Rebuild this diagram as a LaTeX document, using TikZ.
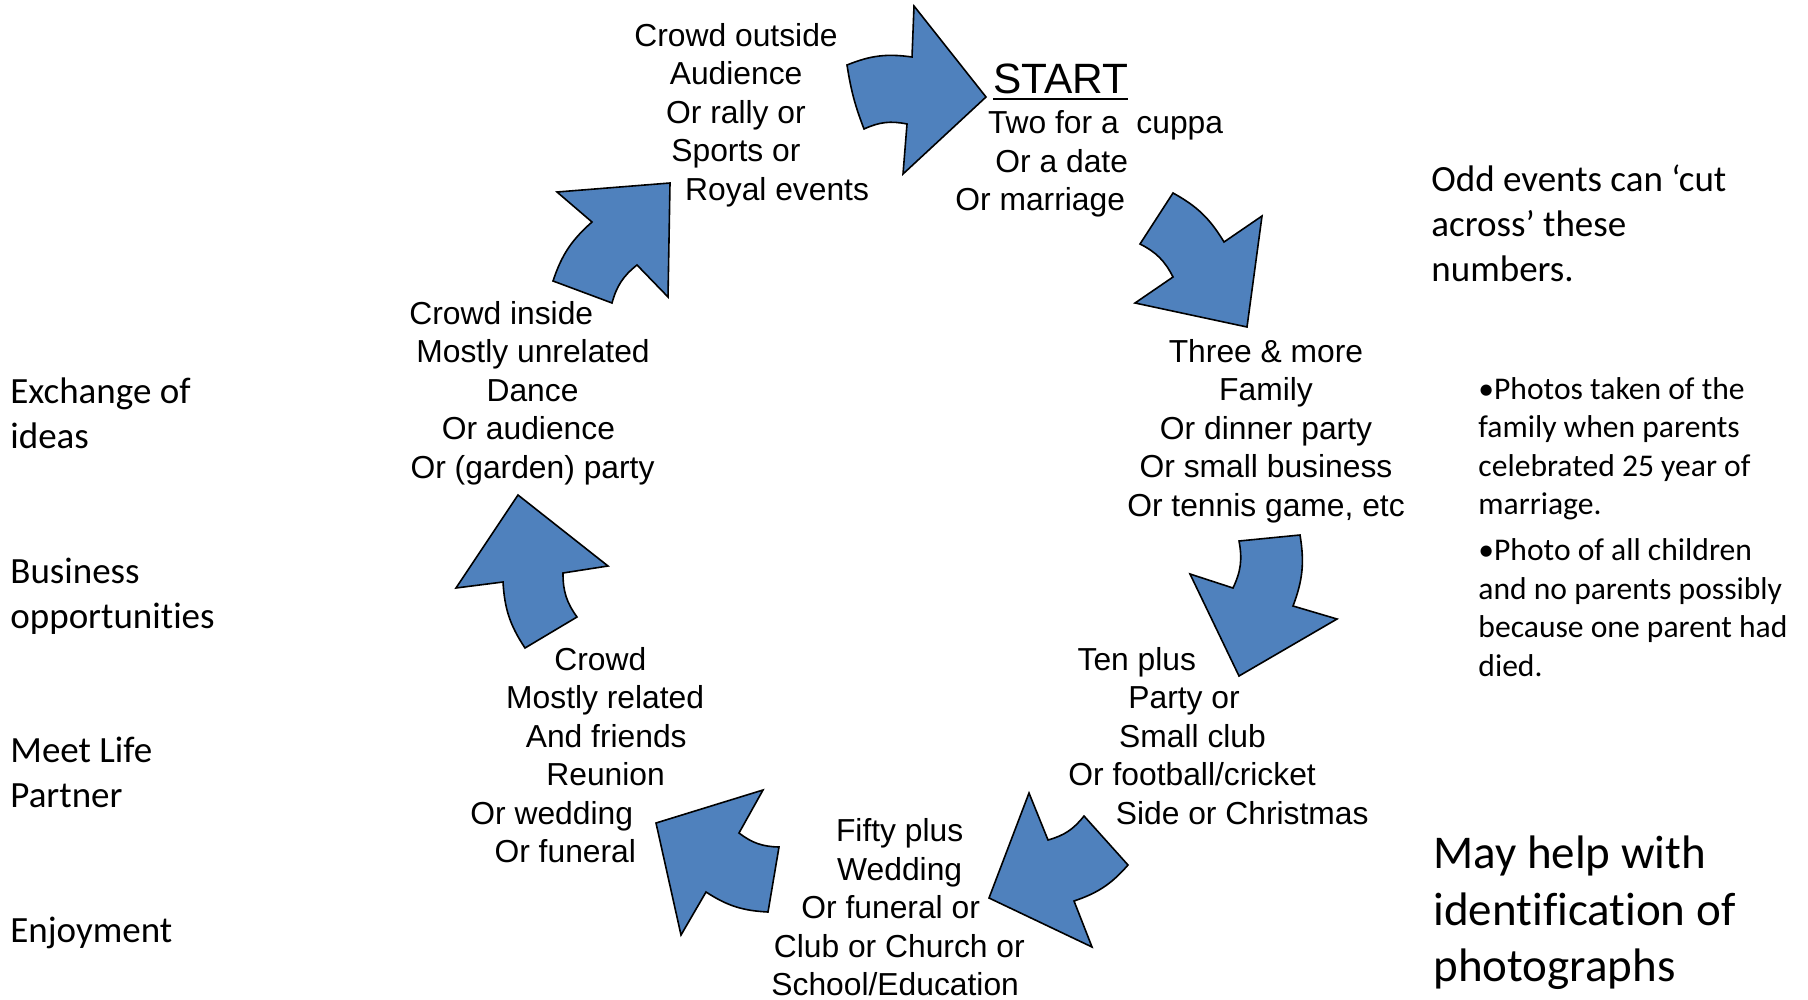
\documentclass[tikz,border=0pt]{standalone}
\usepackage{fontspec}
\setmainfont{Liberation Sans}
\newfontfamily\calibri[Ligatures={TeX,NoCommon}]{Carlito}
\definecolor{arrowblue}{HTML}{4F81BD}
\tikzset{
  blockarrow/.style={fill=arrowblue, draw=black, line width=0.8pt, line join=miter},
  circtxt/.style={inner sep=0pt, anchor=north west, align=left, font=\fontsize{15.9}{19.25}\selectfont},
  sidetxt/.style={inner sep=0pt, anchor=north west, align=left, font=\calibri\fontsize{18.5}{22.5}\selectfont},
  notetxt/.style={sidetxt, font=\calibri\fontsize{15.8}{19.3}\selectfont},
  bigtxt/.style={sidetxt, font=\calibri\fontsize{23.5}{28.3}\selectfont},
}
\begin{document}
\begin{tikzpicture}[x=0.5pt, y=-0.5pt]
\useasboundingbox (0,0) rectangle (1808,1000);
% arrows round the circle
\filldraw[blockarrow] (847,65) to[bend left=15] (912,57) -- (914,6) -- (986,97) -- (903,174) -- (907,124) to[bend right=18] (864,129) to[bend left=6] cycle;
\filldraw[blockarrow] (1173,193) to[bend left=15] (1224,242) -- (1262,216) -- (1247,327) -- (1135,303) -- (1173,277) to[bend right=18] (1140,244) -- cycle;
\filldraw[blockarrow] (1300,535) to[bend left=15] (1293,606) -- (1337,619) -- (1239,676) -- (1190,574) -- (1233,588) to[bend right=18] (1239,541) -- cycle;
\filldraw[blockarrow] (1128,865) to[bend left=15] (1074,901) -- (1092,947) -- (989,898) -- (1029,793) -- (1048,840) to[bend right=18] (1084,816) -- cycle;
\filldraw[blockarrow] (768,912) to[bend left=15] (706,892) -- (681,935) -- (656,823) -- (763,790) -- (739,833) to[bend right=18] (779,847) -- cycle;
\filldraw[blockarrow] (525,648) to[bend left=15] (503,582) -- (456,588) -- (518,495) -- (608,566) -- (563,573) to[bend right=18] (577,617) -- cycle;
\filldraw[blockarrow] (553,281) to[bend left=15] (592,222) -- (557,192) -- (670,183) -- (668,297) -- (637,265) to[bend right=18] (612,303) -- cycle;
% texts round the circle
\node[circtxt] (start) at (955,63.5) {\hspace*{19pt}\vtop{\hbox{\fontsize{21.2}{25}\selectfont START}\kern2.2pt\hrule height 1pt}\\[0.75pt]\hspace*{16.3pt}Two for a\ \ cuppa\\\hspace*{20pt}Or a date\\Or marriage};
\node[circtxt, anchor=north, align=center] (three) at (1266,335) {\strut Three \& more\\Family\\Or dinner party\\Or small business\\Or tennis game, etc};
\node[circtxt] (ten) at (1068,643) {\hspace*{4.6pt}\strut Ten plus\\\hspace*{30pt}Party or\\\hspace*{25.4pt}Small club\\Or football/cricket\\\hspace*{23.7pt}Side or Christmas};
\node[circtxt] (fifty) at (771,814.5) {\hspace*{32.3pt}\strut Fifty plus\\\hspace*{32.9pt}Wedding\\\hspace*{15pt}Or funeral or\\\hspace*{1.2pt}Club or Church or\\School/Education};
\node[circtxt] (crowd) at (470,643) {\hspace*{42pt}\strut Crowd\\\hspace*{17.9pt}Mostly related\\\hspace*{27.7pt}And friends\\\hspace*{38pt}Reunion\\Or wedding\\\hspace*{12.1pt}Or funeral};
\node[circtxt] (inside) at (409,297) {\strut Crowd inside\\\hspace*{3.5pt}Mostly unrelated\\\hspace*{38.6pt}Dance\\\hspace*{16.2pt}Or audience\\\hspace*{0.6pt}Or (garden) party};
\node[circtxt] (outside) at (634,19) {\strut Crowd outside\\\hspace*{17.7pt}Audience\\\hspace*{15.9pt}Or rally or\\\hspace*{18.5pt}Sports or\\\hspace*{25.4pt}Royal events};
% left column
\node[sidetxt] (ideas) at (10,372) {\strut Exchange of\\ideas};
\node[sidetxt] (business) at (10,552) {\strut Business\\opportunities};
\node[sidetxt] (partner) at (10,730.5) {\strut Meet Life\\Partner};
\node[sidetxt] (enjoy) at (10,910.5) {\strut Enjoyment};
% right column
\node[sidetxt] (odd) at (1431,160) {\strut Odd events can ‘cut\\across’ these\\numbers.};
\node[notetxt] (photos) at (1478,371.7) {\strut •Photos taken of the\\family when parents\\celebrated 25 year of\\marriage.\\[3.5pt]•Photo of all children\\and no parents possibly\\because one parent had\\died.};
\node[bigtxt] (mayhelp) at (1433,828.4) {\strut May help with\\identification of\\photographs};
\end{tikzpicture}
\end{document}
